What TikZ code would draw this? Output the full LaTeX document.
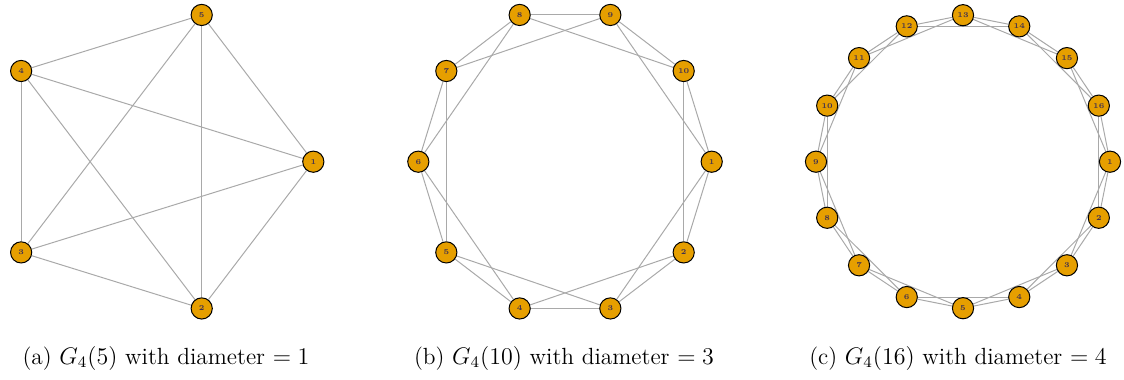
\documentclass[tikz,border=0pt]{standalone}
\usetikzlibrary{backgrounds}
\definecolor{vfill}{HTML}{E69F00}
\definecolor{vlab}{HTML}{3F3050}
\definecolor{egray}{HTML}{A9A9A9}
\begin{document}
\begin{tikzpicture}[x=0.5pt,y=-0.5pt,
  vtx/.style={circle,draw=black,line width=0.5pt,fill=vfill,minimum size=10.6pt,inner sep=0pt,font=\fontsize{3.7}{4.4}\selectfont\bfseries,text=vlab},
  gedge/.style={draw=egray,line width=0.5pt},
  captext/.style={font=\fontsize{11.7}{14}\selectfont,inner sep=0pt}]
\useasboundingbox (0,0) rectangle (1124,380);
\foreach \p/\n/\cx/\cy/\rx/\ry in {a/5/151.8/161.7/161.5/154.3, b/10/565/161.7/146.7/154.3, c/16/963/161.7/147/146.5} {
  \foreach \k in {1,...,\n} {
    \node[vtx] (\p\k) at ({\cx+\rx*cos((\k-1)*360/\n)},{\cy+\ry*sin((\k-1)*360/\n)}) {\k};
  }
}
\begin{scope}[on background layer]
\foreach \p/\n in {a/5,b/10,c/16} {
  \foreach \k in {1,...,\n} {
    \pgfmathtruncatemacro{\j}{mod(\k,\n)+1}
    \pgfmathtruncatemacro{\m}{mod(\k+1,\n)+1}
    \draw[gedge] (\p\k) -- (\p\j);
    \draw[gedge] (\p\k) -- (\p\m);
  }
}
\end{scope}
\node[captext] (capa) at (166,358) {(a) $G_4(5)$ with diameter $= 1$};
\node[captext] (capb) at (564,358) {(b) $G_4(10)$ with diameter $= 3$};
\node[captext] (capc) at (958,358) {(c) $G_4(16)$ with diameter $= 4$};
\end{tikzpicture}
\end{document}
